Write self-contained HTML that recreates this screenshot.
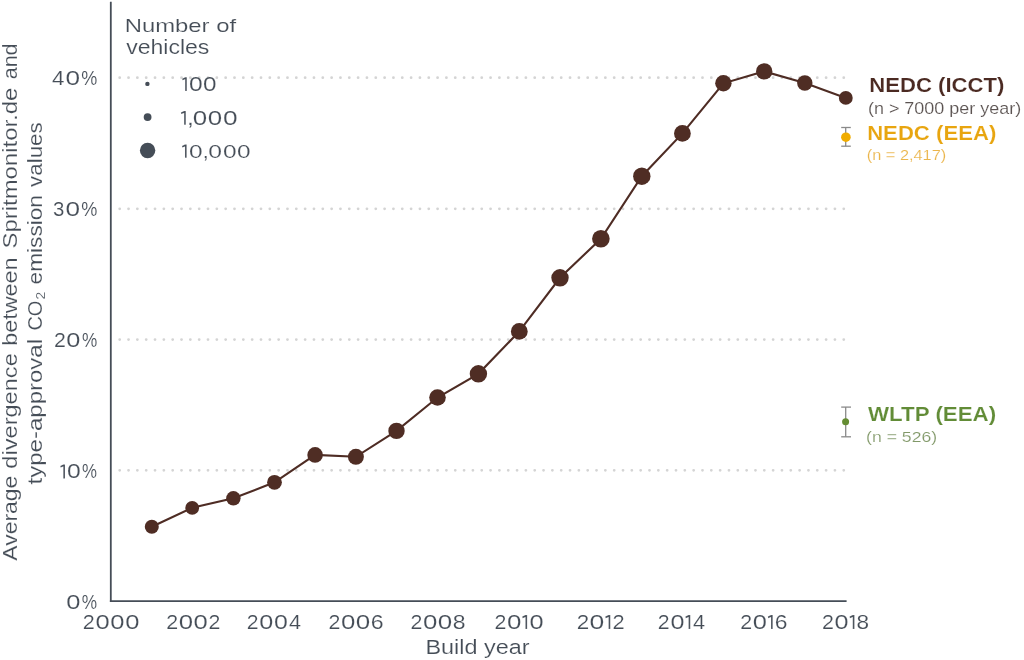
<!DOCTYPE html>
<html><head><meta charset="utf-8"><style>
html,body{margin:0;padding:0;background:#fff;width:1024px;height:660px;overflow:hidden}
svg{display:block;will-change:transform;font-family:"Liberation Sans",sans-serif}
</style></head><body>
<svg width="1024" height="660" viewBox="0 0 1024 660">
<rect width="1024" height="660" fill="#fff"/>
<g stroke="#d4d4d4" stroke-width="2.8" stroke-dasharray="0.01 8.82" stroke-linecap="round">
<line x1="119.7" y1="470.3" x2="845" y2="470.3"/>
<line x1="119.7" y1="339.6" x2="845" y2="339.6"/>
<line x1="119.7" y1="208.8" x2="845" y2="208.8"/>
<line x1="119.7" y1="77.7" x2="845" y2="77.7"/>
</g>
<g fill="#454d57" stroke="#fff" stroke-width="0.15">
<text x="66.27" y="608.51" font-size="19.35" textLength="14.16" lengthAdjust="spacingAndGlyphs">0</text>
<text x="81.86" y="608.51" font-size="19.35" textLength="15.33" lengthAdjust="spacingAndGlyphs">%</text>
<text x="67.14" y="478.40" font-size="20.06" textLength="13.74" lengthAdjust="spacingAndGlyphs">0</text>
<text x="82.07" y="478.40" font-size="20.06" textLength="14.98" lengthAdjust="spacingAndGlyphs">%</text>
<text x="53.95" y="346.80" font-size="19.77" textLength="11.84" lengthAdjust="spacingAndGlyphs">2</text>
<text x="66.33" y="346.80" font-size="19.77" textLength="14.09" lengthAdjust="spacingAndGlyphs">0</text>
<text x="82.05" y="346.80" font-size="19.77" textLength="15.27" lengthAdjust="spacingAndGlyphs">%</text>
<text x="53.10" y="215.60" font-size="19.77" textLength="11.35" lengthAdjust="spacingAndGlyphs">3</text>
<text x="65.43" y="215.60" font-size="19.77" textLength="14.58" lengthAdjust="spacingAndGlyphs">0</text>
<text x="81.19" y="215.60" font-size="19.77" textLength="16.11" lengthAdjust="spacingAndGlyphs">%</text>
<text x="51.90" y="84.60" font-size="19.63" textLength="12.41" lengthAdjust="spacingAndGlyphs">4</text>
<text x="65.61" y="84.60" font-size="19.63" textLength="14.58" lengthAdjust="spacingAndGlyphs">0</text>
<text x="81.13" y="84.60" font-size="19.63" textLength="16.04" lengthAdjust="spacingAndGlyphs">%</text>
<text x="82.73" y="628.71" font-size="19.49" textLength="12.00" lengthAdjust="spacingAndGlyphs">2</text>
<text x="95.55" y="628.71" font-size="19.49" textLength="14.19" lengthAdjust="spacingAndGlyphs">0</text>
<text x="110.38" y="628.71" font-size="19.49" textLength="14.19" lengthAdjust="spacingAndGlyphs">0</text>
<text x="125.28" y="628.71" font-size="19.49" textLength="14.20" lengthAdjust="spacingAndGlyphs">0</text>
<text x="166.19" y="628.71" font-size="19.49" textLength="11.90" lengthAdjust="spacingAndGlyphs">2</text>
<text x="178.75" y="628.71" font-size="19.49" textLength="14.34" lengthAdjust="spacingAndGlyphs">0</text>
<text x="193.48" y="628.71" font-size="19.49" textLength="14.24" lengthAdjust="spacingAndGlyphs">0</text>
<text x="208.43" y="628.71" font-size="19.49" textLength="11.87" lengthAdjust="spacingAndGlyphs">2</text>
<text x="246.82" y="628.71" font-size="19.49" textLength="11.78" lengthAdjust="spacingAndGlyphs">2</text>
<text x="259.19" y="628.71" font-size="19.49" textLength="14.03" lengthAdjust="spacingAndGlyphs">0</text>
<text x="273.93" y="628.71" font-size="19.49" textLength="13.85" lengthAdjust="spacingAndGlyphs">0</text>
<text x="288.92" y="628.71" font-size="19.49" textLength="12.03" lengthAdjust="spacingAndGlyphs">4</text>
<text x="328.61" y="628.71" font-size="19.49" textLength="11.88" lengthAdjust="spacingAndGlyphs">2</text>
<text x="341.08" y="628.71" font-size="19.49" textLength="14.37" lengthAdjust="spacingAndGlyphs">0</text>
<text x="355.80" y="628.71" font-size="19.49" textLength="14.45" lengthAdjust="spacingAndGlyphs">0</text>
<text x="370.70" y="628.71" font-size="19.49" textLength="12.85" lengthAdjust="spacingAndGlyphs">6</text>
<text x="410.61" y="628.71" font-size="19.49" textLength="11.88" lengthAdjust="spacingAndGlyphs">2</text>
<text x="423.08" y="628.71" font-size="19.49" textLength="14.37" lengthAdjust="spacingAndGlyphs">0</text>
<text x="437.80" y="628.71" font-size="19.49" textLength="14.45" lengthAdjust="spacingAndGlyphs">0</text>
<text x="452.85" y="628.71" font-size="19.49" textLength="12.78" lengthAdjust="spacingAndGlyphs">8</text>
<text x="494.61" y="628.71" font-size="19.49" textLength="11.88" lengthAdjust="spacingAndGlyphs">2</text>
<text x="506.97" y="628.71" font-size="19.49" textLength="14.41" lengthAdjust="spacingAndGlyphs">0</text>
<text x="529.41" y="628.71" font-size="19.49" textLength="14.10" lengthAdjust="spacingAndGlyphs">0</text>
<text x="576.71" y="628.71" font-size="19.49" textLength="12.45" lengthAdjust="spacingAndGlyphs">2</text>
<text x="589.47" y="628.71" font-size="19.49" textLength="14.76" lengthAdjust="spacingAndGlyphs">0</text>
<text x="612.58" y="628.71" font-size="19.49" textLength="12.13" lengthAdjust="spacingAndGlyphs">2</text>
<text x="657.89" y="628.71" font-size="19.49" textLength="11.83" lengthAdjust="spacingAndGlyphs">2</text>
<text x="670.40" y="628.71" font-size="19.49" textLength="13.97" lengthAdjust="spacingAndGlyphs">0</text>
<text x="693.00" y="628.71" font-size="19.49" textLength="12.09" lengthAdjust="spacingAndGlyphs">4</text>
<text x="740.22" y="628.71" font-size="19.49" textLength="11.88" lengthAdjust="spacingAndGlyphs">2</text>
<text x="752.73" y="628.71" font-size="19.49" textLength="14.18" lengthAdjust="spacingAndGlyphs">0</text>
<text x="774.65" y="628.71" font-size="19.49" textLength="12.71" lengthAdjust="spacingAndGlyphs">6</text>
<text x="821.92" y="628.71" font-size="19.49" textLength="11.90" lengthAdjust="spacingAndGlyphs">2</text>
<text x="834.60" y="628.71" font-size="19.49" textLength="14.00" lengthAdjust="spacingAndGlyphs">0</text>
<text x="856.45" y="628.71" font-size="19.49" textLength="12.59" lengthAdjust="spacingAndGlyphs">8</text>
<text x="425.40" y="653.75" font-size="19.33" textLength="104.29" lengthAdjust="spacingAndGlyphs">Build year</text>
<text x="124.67" y="32.10" font-size="18.60" textLength="111.41" lengthAdjust="spacingAndGlyphs">Number of</text>
<text x="126.20" y="54.40" font-size="20.69" textLength="83.20" lengthAdjust="spacingAndGlyphs">vehicles</text>
<text x="188.92" y="90.71" font-size="19.35" textLength="13.68" lengthAdjust="spacingAndGlyphs">0</text>
<text x="202.94" y="90.71" font-size="19.35" textLength="13.50" lengthAdjust="spacingAndGlyphs">0</text>
<text x="186.92" y="124.61" font-size="19.49" textLength="6.86" lengthAdjust="spacingAndGlyphs">,</text>
<text x="192.82" y="124.61" font-size="19.49" textLength="14.41" lengthAdjust="spacingAndGlyphs">0</text>
<text x="207.78" y="124.61" font-size="19.49" textLength="14.41" lengthAdjust="spacingAndGlyphs">0</text>
<text x="222.95" y="124.61" font-size="19.49" textLength="14.60" lengthAdjust="spacingAndGlyphs">0</text>
<text x="188.91" y="157.61" font-size="18.79" textLength="13.62" lengthAdjust="spacingAndGlyphs">0</text>
<text x="202.88" y="157.61" font-size="18.79" textLength="5.90" lengthAdjust="spacingAndGlyphs">,</text>
<text x="208.33" y="157.61" font-size="18.79" textLength="13.74" lengthAdjust="spacingAndGlyphs">0</text>
<text x="222.90" y="157.61" font-size="18.79" textLength="13.62" lengthAdjust="spacingAndGlyphs">0</text>
<text x="236.90" y="157.61" font-size="18.79" textLength="13.57" lengthAdjust="spacingAndGlyphs">0</text>
<path d="M63.32 464.40H64.97V478.60H63.32V466.40L60.60 467.50L60.30 465.90Z"/>
<path d="M525.47 615.10H527.12V628.90H525.47V617.10L522.59 618.20L522.29 616.60Z"/>
<path d="M608.62 615.10H610.27V628.90H608.62V617.10L605.62 618.20L605.32 616.60Z"/>
<path d="M688.60 615.10H690.25V628.90H688.60V617.10L685.76 618.20L685.46 616.60Z"/>
<path d="M771.03 615.10H772.68V628.90H771.03V617.10L768.18 618.20L767.88 616.60Z"/>
<path d="M852.77 615.10H854.42V628.90H852.77V617.10L849.92 618.20L849.62 616.60Z"/>
<path d="M185.15 77.20H186.80V90.90H185.15V79.20L182.50 80.30L182.20 78.70Z"/>
<path d="M184.13 111.00H185.78V124.80H184.13V113.00L181.20 114.10L180.90 112.50Z"/>
<path d="M184.99 144.50H186.64V157.80H184.99V146.50L182.30 147.60L182.00 146.00Z"/>

<g transform="rotate(-90)">
<text x="-560.74" y="16.70" font-size="20.00" textLength="85.12" lengthAdjust="spacingAndGlyphs">Average</text>
<text x="-468.66" y="16.70" font-size="20.00" textLength="115.45" lengthAdjust="spacingAndGlyphs">divergence</text>
<text x="-345.78" y="16.70" font-size="20.00" textLength="88.38" lengthAdjust="spacingAndGlyphs">between</text>
<text x="-248.59" y="16.70" font-size="20.00" textLength="160.95" lengthAdjust="spacingAndGlyphs">Spritmonitor.de</text>
<text x="-79.31" y="16.70" font-size="20.00" textLength="35.80" lengthAdjust="spacingAndGlyphs">and</text>
<text x="-484.40" y="41.80" font-size="20.00" textLength="145.37" lengthAdjust="spacingAndGlyphs">type-approval</text>
<text x="-330.58" y="41.80" font-size="20.00" textLength="29.93" lengthAdjust="spacingAndGlyphs">CO</text>
<text x="-284.49" y="41.80" font-size="20.00" textLength="89.47" lengthAdjust="spacingAndGlyphs">emission</text>
<text x="-186.93" y="41.80" font-size="20.00" textLength="64.64" lengthAdjust="spacingAndGlyphs">values</text>
<text x="-299.59" y="44.80" font-size="12.40" textLength="7.73" lengthAdjust="spacingAndGlyphs">2</text>
</g>
</g>
<g fill="#454d57">
<circle cx="147.4" cy="83.9" r="2.2"/>
<circle cx="147.6" cy="117.1" r="3.9"/>
<circle cx="147.6" cy="150.5" r="7.7"/>
</g>
<g stroke="#454d57" stroke-width="1.8" fill="none">
<line x1="110.8" y1="1.8" x2="110.8" y2="602.1"/>
<line x1="109.9" y1="601.2" x2="846.6" y2="601.2"/>
</g>
<polyline points="151.8,526.8 192.2,507.8 233.4,498.3 274.5,482.3 315.1,454.9 355.9,456.8 396.5,430.9 437.5,397.5 478.4,373.8 519.3,331.4 560.0,277.8 600.9,238.7 641.8,176.2 682.4,133.4 723.4,83.3 764.2,71.4 804.8,83.0 845.8,97.9" fill="none" stroke="#4e2c24" stroke-width="2.1"/>
<g fill="#4f2d24">
<circle cx="151.8" cy="526.8" r="7.0"/>
<circle cx="192.2" cy="507.8" r="6.9"/>
<circle cx="233.4" cy="498.3" r="7.2"/>
<circle cx="274.5" cy="482.3" r="7.4"/>
<circle cx="315.1" cy="454.9" r="7.8"/>
<circle cx="355.9" cy="456.8" r="8.0"/>
<circle cx="396.5" cy="430.9" r="8.2"/>
<circle cx="437.5" cy="397.5" r="8.3"/>
<circle cx="478.4" cy="373.8" r="8.7"/>
<circle cx="519.3" cy="331.4" r="8.4"/>
<circle cx="560.0" cy="277.8" r="8.7"/>
<circle cx="600.9" cy="238.7" r="8.8"/>
<circle cx="641.8" cy="176.2" r="8.7"/>
<circle cx="682.4" cy="133.4" r="8.4"/>
<circle cx="723.4" cy="83.3" r="8.2"/>
<circle cx="764.2" cy="71.4" r="8.2"/>
<circle cx="804.8" cy="83.0" r="7.7"/>
<circle cx="845.8" cy="97.9" r="6.9"/>
</g>
<g stroke="#8a8a8a" stroke-width="1.3">
<line x1="845.7" y1="127.5" x2="845.7" y2="146.2"/>
<line x1="841.2" y1="127.5" x2="850.8" y2="127.5"/>
<line x1="841.2" y1="146.2" x2="850.8" y2="146.2"/>
<line x1="845.7" y1="407.1" x2="845.7" y2="436.8"/>
<line x1="841.2" y1="407.1" x2="851" y2="407.1"/>
<line x1="841.2" y1="436.8" x2="851" y2="436.8"/>
</g>
<circle cx="845.9" cy="137.2" r="4.8" fill="#f0ac00"/>
<circle cx="845.6" cy="421.7" r="3.5" fill="#648c32"/>
<g stroke="#fff" stroke-width="0.15">
<text x="869.21" y="91.80" font-size="19.80" font-weight="bold" fill="#4b2a22" textLength="135.15" lengthAdjust="spacingAndGlyphs">NEDC (ICCT)</text>
<text x="867.92" y="113.80" font-size="17.00" fill="#5a5250" textLength="153.34" lengthAdjust="spacingAndGlyphs">(n &gt; 7000 per year)</text>
<text x="867.15" y="139.60" font-size="19.80" font-weight="bold" fill="#e8a50f" textLength="129.14" lengthAdjust="spacingAndGlyphs">NEDC (EEA)</text>
<text x="866.79" y="159.55" font-size="15.10" fill="#ebb54a" textLength="79.43" lengthAdjust="spacingAndGlyphs">(n = 2,417)</text>
<text x="868.00" y="421.40" font-size="19.80" font-weight="bold" fill="#628c37" textLength="128.20" lengthAdjust="spacingAndGlyphs">WLTP (EEA)</text>
<text x="866.07" y="441.75" font-size="15.50" fill="#819868" textLength="71.07" lengthAdjust="spacingAndGlyphs">(n = 526)</text>
</g>
</svg>
</body></html>
